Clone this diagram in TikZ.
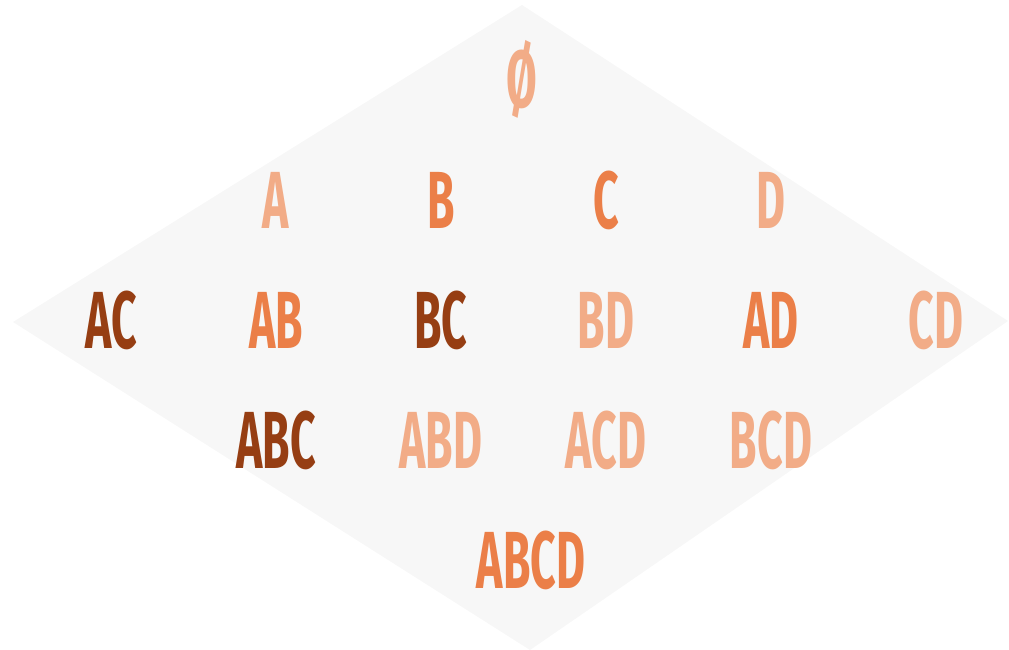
\documentclass[tikz,border=0pt]{standalone}
\usepackage{fontspec}
\newfontfamily\condfont[FakeStretch=0.55]{Fira Sans}
\definecolor{setlight}{HTML}{F2AC87}
\definecolor{setmid}{HTML}{EB7F48}
\definecolor{setdark}{HTML}{963E13}
\definecolor{diamondbg}{HTML}{F7F7F7}
\tikzset{
  lbl/.style={anchor=base, inner sep=0pt, font=\condfont\bfseries\fontsize{81}{81}\selectfont},
  lo/.style={lbl, text=setlight},
  mi/.style={lbl, text=setmid},
  hi/.style={lbl, text=setdark}
}
\begin{document}
\begin{tikzpicture}[x=1pt,y=-1pt]
\useasboundingbox (0,0) rectangle (1009,650);
% Diamond
\fill[diamondbg] (522,5) -- (1008,321) -- (530,650) -- (13,322) -- cycle;
% Empty set
\node[lo] (e) at (522,108) {Ø};
% Singletons
\node[lo] (a) at (276,228) {A};
\node[mi] (b) at (441,228) {B};
\node[mi] (c) at (606,228) {C};
\node[lo] (d) at (771,228) {D};
% Pairs
\node[hi] (ac) at (111,348) {AC};
\node[mi] (ab) at (276,348) {AB};
\node[hi] (bc) at (441,348) {BC};
\node[lo] (bd) at (606,348) {BD};
\node[mi] (ad) at (771,348) {AD};
\node[lo] (cd) at (936,348) {CD};
% Triples
\node[hi] (abc) at (276,468) {ABC};
\node[lo] (abd) at (441,468) {ABD};
\node[lo] (acd) at (606,468) {ACD};
\node[lo] (bcd) at (771,468) {BCD};
% Full set
\node[mi] (abcd) at (531,588) {ABCD};
\end{tikzpicture}
\end{document}
